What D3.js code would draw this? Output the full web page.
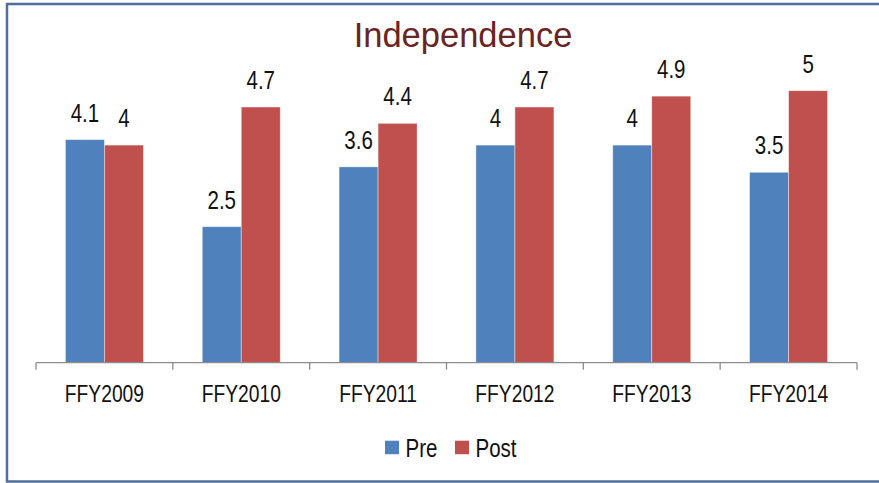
<!DOCTYPE html>
<html>
<head>
<meta charset="utf-8">
<script src="https://cdn.jsdelivr.net/npm/d3@7"></script>
<style>
  body { margin: 0; background: #fff; }
  svg { display: block; }
</style>
</head>
<body>
<div id="chart"></div>
<script>
let width = 879;
let height = 483;
let fontFamily = "'Liberation Sans', Arial, sans-serif";
let narrow = 0.82; // 模拟 Arial Narrow 的水平压缩

// 数据
let categories = ["FFY2009", "FFY2010", "FFY2011", "FFY2012", "FFY2013", "FFY2014"];
let seriesNames = ["Pre", "Post"];
let preValues = [4.1, 2.5, 3.6, 4, 4, 3.5];
let postValues = [4, 4.7, 4.4, 4.7, 4.9, 5];
let colors = { "Pre": "#4F81BD", "Post": "#C0504D" };

let plot = { left: 36, right: 857, baseline: 362.7, top: 36.3 };

let svg = d3.select("#chart").append("svg")
    .attr("width", width)
    .attr("height", height);

// 外框
svg.append("rect")
    .attr("x", 7)
    .attr("y", 4)
    .attr("width", 890)
    .attr("height", 477.5)
    .attr("fill", "#fff")
    .attr("stroke", "#4F6E9C")
    .attr("stroke-width", 2.5);

// 比例尺
let x0 = d3.scaleBand()
    .domain(categories)
    .range([plot.left, plot.right])
    .paddingInner(0)
    .paddingOuter(0);

let x1 = d3.scaleBand()
    .domain(seriesNames)
    .range([0, x0.bandwidth() * 0.57]);

let y = d3.scaleLinear()
    .domain([0, 6])
    .range([plot.baseline, plot.top]);

let rows = categories.map((c, i) => ({ cat: c, Pre: preValues[i], Post: postValues[i] }));

// 标题
svg.append("text")
    .attr("x", 463)
    .attr("y", 47)
    .attr("text-anchor", "middle")
    .style("font-family", fontFamily)
    .style("font-size", "34.5px")
    .attr("fill", "#6B2424")
    .text("Independence");

// 柱子
let groups = svg.selectAll(".grp")
    .data(rows)
    .enter().append("g")
    .attr("class", "grp")
    .attr("transform", d => "translate(" + (x0(d.cat) + x0.bandwidth() * 0.215) + ",0)");

groups.selectAll("rect")
    .data(d => seriesNames.map(s => ({ s: s, v: d[s] })))
    .enter().append("rect")
    .attr("x", d => x1(d.s))
    .attr("y", d => y(d.v))
    .attr("width", x1.bandwidth())
    .attr("height", d => y(0) - y(d.v))
    .attr("fill", d => colors[d.s])
    .attr("stroke", "rgba(255,255,255,0.5)")
    .attr("stroke-width", 0.8);

// 数值标签
groups.selectAll(".lbl")
    .data(d => seriesNames.map(s => ({ s: s, v: d[s] })))
    .enter().append("text")
    .attr("class", "lbl")
    .attr("transform", d => "translate(" + (x1(d.s) + x1.bandwidth() / 2) + "," + (y(d.v) - 18) + ") scale(" + narrow + ",1)")
    .attr("text-anchor", "middle")
    .style("font-family", fontFamily)
    .style("font-size", "25px")
    .attr("fill", "#111")
    .text(d => d.v);

// x 轴
let axis = svg.append("g")
    .attr("transform", "translate(0," + plot.baseline + ")");

axis.append("line")
    .attr("x1", plot.left)
    .attr("x2", plot.right)
    .attr("stroke", "#8C8C8C")
    .attr("stroke-width", 1.3);

let tickPos = categories.map(c => x0(c)).concat([plot.right]);
axis.selectAll(".tick")
    .data(tickPos)
    .enter().append("line")
    .attr("x1", d => d)
    .attr("x2", d => d)
    .attr("y1", 0)
    .attr("y2", 7)
    .attr("stroke", "#8C8C8C")
    .attr("stroke-width", 1.3);

axis.selectAll(".xlabel")
    .data(categories)
    .enter().append("text")
    .attr("transform", d => "translate(" + (x0(d) + x0.bandwidth() / 2) + ",39) scale(" + narrow + ",1)")
    .attr("text-anchor", "middle")
    .style("font-family", fontFamily)
    .style("font-size", "23.5px")
    .attr("fill", "#111")
    .text(d => d);

// 图例
let legendX = [385, 455];
let legend = svg.selectAll(".legend")
    .data(seriesNames)
    .enter().append("g")
    .attr("class", "legend")
    .attr("transform", (d, i) => "translate(" + legendX[i] + ",440.7)");

legend.append("rect")
    .attr("width", 14)
    .attr("height", 13.5)
    .attr("fill", d => colors[d]);

legend.append("text")
    .attr("transform", "translate(20.5,16) scale(" + narrow + ",1)")
    .style("font-family", fontFamily)
    .style("font-size", "25px")
    .attr("fill", "#111")
    .text(d => d);
</script>
</body>
</html>
